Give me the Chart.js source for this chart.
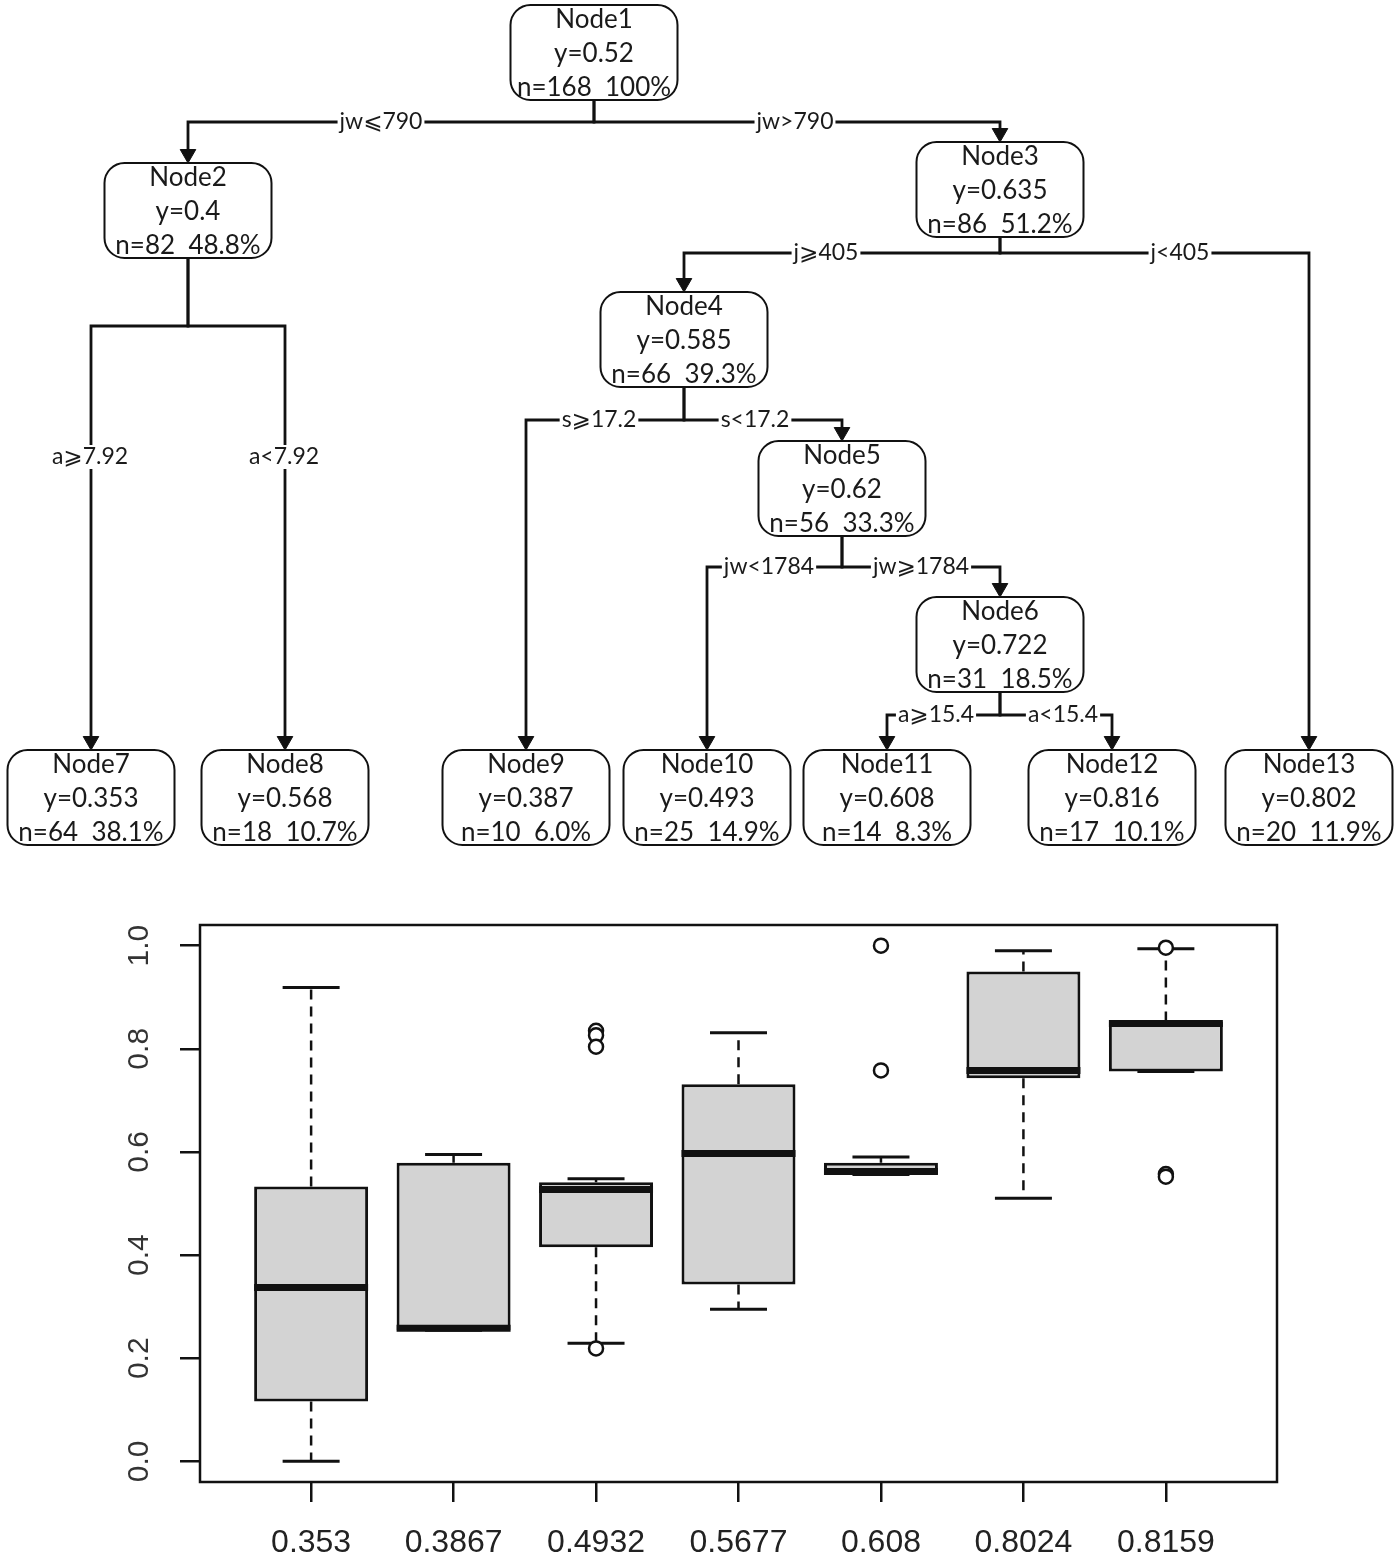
<!DOCTYPE html>
<html>
<head>
<meta charset="utf-8">
<script src="https://cdn.jsdelivr.net/npm/chart.js@4.4.0/dist/chart.umd.min.js"></script>
<style>
  html, body { margin: 0; padding: 0; background: #fff; }
  canvas { display: block; }
</style>
</head>
<body>
<canvas id="tree" width="1400" height="860"></canvas>
<canvas id="box" width="1400" height="700"></canvas>
<script>
// ---- tree data ----
const nodeNames = ["Node1", "Node2", "Node3", "Node4", "Node5", "Node6", "Node7",
  "Node8", "Node9", "Node10", "Node11", "Node12", "Node13"];
const nodeMeans = ["0.52", "0.4", "0.635", "0.585", "0.62", "0.722", "0.353",
  "0.568", "0.387", "0.493", "0.608", "0.816", "0.802"];
const nodeCounts = [168, 82, 86, 66, 56, 31, 64, 18, 10, 25, 14, 17, 20];
const nodePercents = ["100%", "48.8%", "51.2%", "39.3%", "33.3%", "18.5%", "38.1%",
  "10.7%", "6.0%", "14.9%", "8.3%", "10.1%", "11.9%"];
const edgeParents = [0, 0, 1, 1, 2, 2, 3, 3, 4, 4, 5, 5];
const edgeChildren = [1, 2, 6, 7, 3, 12, 8, 4, 9, 5, 10, 11];
const edgeLabels = ["jw⩽790", "jw>790", "a⩾7.92", "a<7.92", "j⩾405", "j<405",
  "s⩾17.2", "s<17.2", "jw<1784", "jw⩾1784", "a⩾15.4", "a<15.4"];

// ---- boxplot data ----
const groupLabels = ["0.353", "0.3867", "0.4932", "0.5677", "0.608", "0.8024", "0.8159"];
const whiskerLow = [0.0, 0.254, 0.229, 0.295, 0.556, 0.510, 0.756];
const quart1 = [0.116, 0.254, 0.415, 0.343, 0.556, 0.743, 0.756];
const medians = [0.337, 0.258, 0.527, 0.597, 0.562, 0.758, 0.849];
const quart3 = [0.533, 0.579, 0.541, 0.731, 0.579, 0.950, 0.853];
const whiskerHigh = [0.919, 0.595, 0.548, 0.831, 0.590, 0.990, 0.994];
const outlierGroup = [3, 3, 3, 3, 5, 5, 7, 7, 7];
const outlierValue = [0.835, 0.826, 0.804, 0.219, 1.0, 0.758, 0.996, 0.557, 0.552];
const yTicks = [0, 0.2, 0.4, 0.6, 0.8, 1.0];

// ---- tree layout (page pixels) ----
const nodeCX = [594, 188, 1000, 684, 842, 1000, 91, 285, 526, 707, 887, 1112, 1309];
const nodeTop = [5, 163, 142, 292, 441, 597, 750, 750, 750, 750, 750, 750, 750];
const splitY = [122, 326, 253, 420, 567, 715];
const labelX = [381, 795, 90, 284, 826, 1180, 599, 755, 769, 921, 936, 1063];
const labelY = [122, 122, 457, 457, 253, 253, 420, 420, 567, 567, 715, 715];
const NODE_W = 167, NODE_H = 95, ARROW = 9;
const INK = "#111";

const edgeSets = edgeParents.map((p, i) => {
  const c = edgeChildren[i];
  return {
    type: "line",
    data: [
      { x: nodeCX[p], y: nodeTop[p] + NODE_H },
      { x: nodeCX[p], y: splitY[p] },
      { x: nodeCX[c], y: splitY[p] },
      { x: nodeCX[c], y: nodeTop[c] - ARROW }
    ],
    borderColor: INK,
    borderWidth: 2.8,
    pointRadius: 0,
    showLine: true,
    fill: false,
    tension: 0
  };
});

const arrowSet = {
  type: "scatter",
  data: edgeChildren.map(c => ({ x: nodeCX[c], y: nodeTop[c] - ARROW })),
  pointStyle: "triangle",
  rotation: 180,
  pointRadius: ARROW,
  backgroundColor: INK,
  borderColor: INK,
  borderWidth: 1
};

// boxes and edge labels for the tree
const treeNodes = {
  id: "treeNodes",
  afterDatasetsDraw(chart) {
    const ctx = chart.ctx;
    const xs = chart.scales.x, ys = chart.scales.y;
    ctx.save();
    // edge labels
    ctx.font = "23px Lato, 'DejaVu Sans', 'Noto Sans CJK SC'";
    ctx.textAlign = "center";
    ctx.textBaseline = "middle";
    edgeLabels.forEach((t, i) => {
      const px = xs.getPixelForValue(labelX[i]);
      const py = ys.getPixelForValue(labelY[i]);
      const w = ctx.measureText(t).width;
      ctx.fillStyle = "#fff";
      ctx.fillRect(px - w / 2 - 2, py - 12, w + 4, 24);
      ctx.fillStyle = "#1a1a1a";
      ctx.fillText(t, px, py);
    });
    // nodes
    nodeNames.forEach((name, i) => {
      const left = xs.getPixelForValue(nodeCX[i] - NODE_W / 2);
      const right = xs.getPixelForValue(nodeCX[i] + NODE_W / 2);
      const top = ys.getPixelForValue(nodeTop[i]);
      const bottom = ys.getPixelForValue(nodeTop[i] + NODE_H);
      ctx.beginPath();
      ctx.roundRect(left, top, right - left, bottom - top, 20);
      ctx.fillStyle = "#fff";
      ctx.fill();
      ctx.lineWidth = 2;
      ctx.strokeStyle = INK;
      ctx.stroke();
      ctx.fillStyle = "#1a1a1a";
      ctx.font = "26px Lato, 'DejaVu Sans'";
      const cx = (left + right) / 2;
      ctx.fillText(name, cx, top + 15);
      ctx.fillText("y=" + nodeMeans[i], cx, top + 49);
      ctx.fillText("n=" + nodeCounts[i] + "  " + nodePercents[i], cx, top + 83);
    });
    ctx.restore();
  }
};

new Chart(document.getElementById("tree"), {
  type: "scatter",
  data: { datasets: [...edgeSets, arrowSet] },
  options: {
    responsive: false,
    animation: false,
    events: [],
    layout: { padding: 0, autoPadding: false },
    plugins: { legend: { display: false }, tooltip: { enabled: false } },
    scales: {
      x: { type: "linear", display: false, min: 0, max: 1400 },
      y: { type: "linear", display: false, min: 0, max: 860, reverse: true }
    }
  },
  plugins: [treeNodes]
});

// ---- boxplot ----
const boxParts = {
  id: "boxParts",
  beforeDatasetsDraw(chart) {
    const ctx = chart.ctx;
    const xs = chart.scales.x, ys = chart.scales.y;
    ctx.save();
    ctx.strokeStyle = INK;
    groupLabels.forEach((g, i) => {
      const k = i + 1;
      const cx = xs.getPixelForValue(k);
      const c0 = xs.getPixelForValue(k - 0.2), c1 = xs.getPixelForValue(k + 0.2);
      // dashed whiskers
      ctx.setLineDash([10, 7]);
      ctx.lineWidth = 2.5;
      ctx.beginPath();
      ctx.moveTo(cx, ys.getPixelForValue(quart3[i]));
      ctx.lineTo(cx, ys.getPixelForValue(whiskerHigh[i]));
      ctx.moveTo(cx, ys.getPixelForValue(quart1[i]));
      ctx.lineTo(cx, ys.getPixelForValue(whiskerLow[i]));
      ctx.stroke();
      // caps
      ctx.setLineDash([]);
      ctx.lineWidth = 3;
      ctx.beginPath();
      ctx.moveTo(c0, ys.getPixelForValue(whiskerHigh[i]));
      ctx.lineTo(c1, ys.getPixelForValue(whiskerHigh[i]));
      ctx.moveTo(c0, ys.getPixelForValue(whiskerLow[i]));
      ctx.lineTo(c1, ys.getPixelForValue(whiskerLow[i]));
      ctx.stroke();
    });
    ctx.restore();
  },
  afterDatasetsDraw(chart) {
    const ctx = chart.ctx;
    const xs = chart.scales.x, ys = chart.scales.y;
    ctx.save();
    ctx.strokeStyle = INK;
    ctx.lineWidth = 7;
    medians.forEach((m, i) => {
      const y = ys.getPixelForValue(m);
      ctx.beginPath();
      ctx.moveTo(xs.getPixelForValue(i + 1 - 0.4), y);
      ctx.lineTo(xs.getPixelForValue(i + 1 + 0.4), y);
      ctx.stroke();
    });
    ctx.restore();
  },
  afterDraw(chart) {
    const ctx = chart.ctx;
    const a = chart.chartArea;
    const ys = chart.scales.y;
    ctx.save();
    ctx.strokeStyle = INK;
    ctx.lineWidth = 2.5;
    ctx.strokeRect(a.left, a.top, a.right - a.left, a.bottom - a.top);
    // rotated y labels, R style
    ctx.fillStyle = "#333";
    ctx.font = "30px 'Liberation Sans', Arial, sans-serif";
    ctx.textAlign = "center";
    ctx.textBaseline = "middle";
    ys.ticks.forEach(t => {
      ctx.save();
      ctx.translate(a.left - 60, ys.getPixelForValue(t.value));
      ctx.rotate(-Math.PI / 2);
      ctx.fillText(t.value.toFixed(1), 0, 0);
      ctx.restore();
    });
    ctx.restore();
  }
};

new Chart(document.getElementById("box"), {
  type: "bar",
  data: {
    datasets: [
      {
        type: "bar",
        data: groupLabels.map((g, i) => ({ x: i + 1, y: [quart1[i], quart3[i]] })),
        backgroundColor: "#d3d3d3",
        borderColor: INK,
        borderWidth: 3,
        borderSkipped: false,
        barPercentage: 0.8,
        categoryPercentage: 1
      },
      {
        type: "scatter",
        data: outlierGroup.map((g, i) => ({ x: g, y: outlierValue[i] })),
        pointStyle: "circle",
        pointRadius: 7,
        backgroundColor: "#fff",
        borderColor: INK,
        borderWidth: 2.5
      }
    ]
  },
  options: {
    responsive: false,
    animation: false,
    events: [],
    layout: { padding: { top: 65, right: 123, left: 0, bottom: 0 }, autoPadding: false },
    plugins: { legend: { display: false }, tooltip: { enabled: false } },
    scales: {
      x: {
        type: "linear",
        min: 0.22,
        max: 7.78,
        offset: false,
        afterBuildTicks: s => { s.ticks = groupLabels.map((g, i) => ({ value: i + 1 })); },
        afterFit: s => { s.height = 78; },
        ticks: {
          callback: v => groupLabels[v - 1],
          color: "#222",
          font: { family: "'Liberation Sans', Arial, sans-serif", size: 32 },
          padding: 22,
          maxRotation: 0,
          autoSkip: false
        },
        grid: { offset: false, drawOnChartArea: false, tickLength: 20, color: INK, lineWidth: 2.5 },
        border: { display: false }
      },
      y: {
        type: "linear",
        min: -0.04,
        max: 1.04,
        afterBuildTicks: s => { s.ticks = yTicks.map(v => ({ value: v })); },
        afterFit: s => { s.width = 200; },
        ticks: { color: "rgba(0,0,0,0)", autoSkip: false },
        grid: { offset: false, drawOnChartArea: false, tickLength: 20, color: INK, lineWidth: 2.5 },
        border: { display: false }
      }
    }
  },
  plugins: [boxParts]
});
</script>
</body>
</html>
